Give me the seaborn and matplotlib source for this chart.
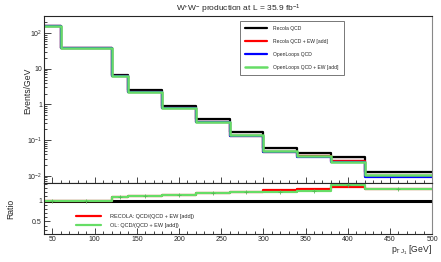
import matplotlib
matplotlib.use("Agg")
import matplotlib.pyplot as plt
import numpy as np
import seaborn as sns
from matplotlib.ticker import LogLocator, FixedLocator, MultipleLocator, FuncFormatter, NullFormatter

# bin edges in pT of leading jet [GeV]
edges = [40, 60, 120, 140, 180, 220, 260, 300, 340, 380, 420, 500]
centers = [50, 90, 130, 160, 200, 240, 280, 320, 360, 400, 460]

# Events/GeV per bin
recola_qcd = [157, 38, 6.8, 2.5, 0.92, 0.38, 0.165, 0.060, 0.045, 0.034, 0.0127]
recola_qcd_ew = [157, 38, 6.24, 2.25, 0.81, 0.325, 0.135, 0.048, 0.0354, 0.0256, 0.0099]
ol_qcd = [155, 37.5, 6.2, 2.2, 0.79, 0.315, 0.13, 0.046, 0.033, 0.024, 0.0095]
ol_qcd_ew = [157, 38, 6.3, 2.25, 0.81, 0.325, 0.136, 0.050, 0.0366, 0.0248, 0.0104]

# ratio QCD/(QCD + EW [add])
ratio_recola = [1.0, 1.0, 1.09, 1.11, 1.135, 1.17, 1.21, 1.25, 1.27, 1.33, 1.28]
ratio_ol = [1.0, 1.0, 1.08, 1.11, 1.135, 1.17, 1.21, 1.21, 1.23, 1.37, 1.27]

sns.set_style("ticks")
plt.rcParams['font.family'] = ['Liberation Sans', 'DejaVu Sans']
plt.rcParams['mathtext.fontset'] = 'custom'
plt.rcParams['mathtext.rm'] = 'Liberation Sans'
plt.rcParams['mathtext.it'] = 'Liberation Sans'

fig = plt.figure(figsize=(4.41, 2.62), dpi=100)
ax = fig.add_axes([0.0998, 0.3015, 0.88, 0.637])
axr = fig.add_axes([0.0998, 0.1069, 0.88, 0.1947], sharex=ax)

def step(vals):
    return list(vals) + [vals[-1]]

# main panel
ax.fill_between(edges, step(recola_qcd), step(ol_qcd_ew), step='post', color='#eee6e6', lw=0)
series = [
    (recola_qcd, 'black', 'Recola QCD', 1.6),
    (recola_qcd_ew, '#ff0000', 'Recola QCD + EW [add]', 1.6),
    (ol_qcd, '#0000ff', 'OpenLoops QCD', 1.6),
    (ol_qcd_ew, '#66dd66', 'OpenLoops QCD + EW [add]', 1.8),
]
for vals, col, lab, lw in series:
    sns.lineplot(x=edges, y=step(vals), drawstyle='steps-post', color=col, lw=lw,
                 label=lab, estimator=None, ax=ax)

ax.set_yscale('log')
ax.set_ylim(0.0063, 300)
ax.set_xlim(40, 500)
ax.yaxis.set_major_locator(LogLocator(base=10, numticks=10))
ax.yaxis.set_minor_locator(LogLocator(base=10, subs=np.arange(2, 10), numticks=20))
ax.yaxis.set_minor_formatter(NullFormatter())

def logfmt(v, pos):
    e = int(round(np.log10(v)))
    if e == 0:
        return '1'
    if e == 1:
        return '10'
    return r'10$^{%d}$' % e
ax.yaxis.set_major_formatter(FuncFormatter(logfmt))
ax.set_ylabel('Events/GeV', fontsize=6.2, labelpad=1)
ax.yaxis.set_label_coords(-0.03, 0.55)
ax.set_title(r'W$^{+}$W$^{-}$ production at L = 35.9 fb$^{-1}$', fontsize=6, pad=3)
plt.setp(ax.get_xticklabels(), visible=False)

leg = ax.legend(loc='upper left', bbox_to_anchor=(0.498, 0.985), fontsize=3.6,
                frameon=True, fancybox=False, edgecolor='#555555', handlelength=4.5,
                borderpad=1.0, labelspacing=1.6, handletextpad=1.2)
leg.get_frame().set_linewidth(0.7)

# ratio panel
sns.lineplot(x=[40, 500], y=[1, 1], color='black', lw=2.2, ax=axr, estimator=None)
axr.fill_between(edges, np.array(step(ratio_recola)) - 0.015, np.array(step(ratio_recola)) + 0.015,
                 step='post', color='#ffbbbb', lw=0)
sns.lineplot(x=edges, y=step(ratio_recola), drawstyle='steps-post', color='#ff0000', lw=1.6,
             label='RECOLA: QCD/(QCD + EW [add])', estimator=None, ax=axr)
sns.lineplot(x=edges, y=step(ratio_ol), drawstyle='steps-post', color='#66dd66', lw=1.6,
             label='OL: QCD/(QCD + EW [add])', estimator=None, ax=axr)
sns.scatterplot(x=centers, y=ratio_ol, color='#55bb55', marker='+', s=8, linewidth=0.6,
                ax=axr, legend=False, zorder=5)
axr.set_ylim(0.2, 1.42)
axr.yaxis.set_major_locator(FixedLocator([0.5, 1.0]))
axr.yaxis.set_major_formatter(FuncFormatter(lambda v, p: '1' if v == 1 else '%g' % v))
axr.yaxis.set_minor_locator(MultipleLocator(0.1))
axr.set_ylabel('Ratio', fontsize=6.2)
axr.yaxis.set_label_coords(-0.075, 0.5)
axr.legend(loc='lower left', bbox_to_anchor=(0.07, 0.02), fontsize=4, frameon=False,
           handlelength=4.5, labelspacing=0.7, handletextpad=1.5)
axr.set_xlabel(r'p$_{T\,J_1}$ [GeV]', fontsize=6.2, loc='right', labelpad=0)

axr.xaxis.set_major_locator(MultipleLocator(50))
axr.xaxis.set_minor_locator(MultipleLocator(10))

for a in (ax, axr):
    a.tick_params(which='both', direction='in', top=False, right=False, labelsize=5, width=0.6, pad=1.5)
    a.tick_params(which='major', length=4)
    a.tick_params(which='minor', length=2)
    for s in a.spines.values():
        s.set_linewidth(0.8)
    a.spines['right'].set_color('#888888')
ax.tick_params(axis='y', which='major', length=5)

fig.savefig('out.png', dpi=100)
